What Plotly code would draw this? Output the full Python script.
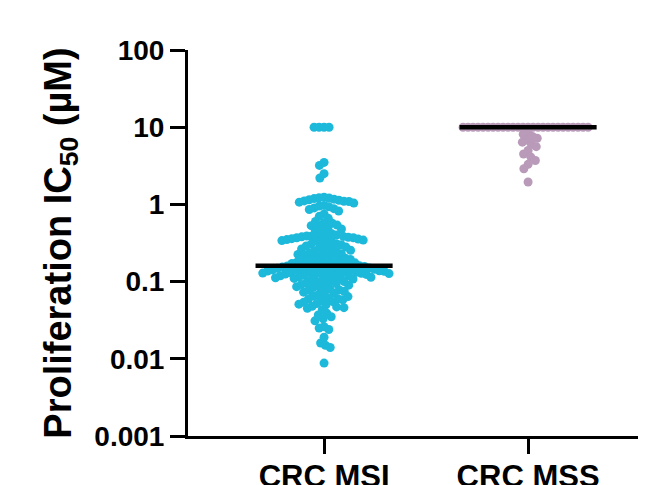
import math
import numpy as np
import plotly.graph_objects as go

categories = ["CRC MSI", "CRC MSS"]

msi_values = (
    [10, 10, 10, 10]
    + [3.5, 3.2, 2.5, 2.2]
    + [1.24, 1.22, 1.21, 1.19, 1.17, 1.15, 1.13, 1.11, 1.1, 1.09, 1.07, 1.04]
    + [0.97, 0.95, 0.93, 0.9, 0.88, 0.86, 0.82]
    + [0.75, 0.7, 0.66]
    + [0.6, 0.58, 0.57, 0.54, 0.53, 0.52, 0.5]
    + [0.48, 0.46, 0.44, 0.42]
    + [0.4, 0.395, 0.39, 0.39, 0.385, 0.38, 0.375, 0.37, 0.37, 0.365, 0.36, 0.355, 0.35, 0.345,
       0.34, 0.335, 0.33, 0.32]
    + [0.31, 0.305, 0.3, 0.29, 0.285, 0.28, 0.27, 0.265, 0.26, 0.255]
    + [0.248, 0.244, 0.24, 0.235, 0.23, 0.225, 0.22, 0.215, 0.21, 0.205, 0.2]
    + [0.197, 0.194, 0.19, 0.187, 0.184, 0.181, 0.178, 0.175, 0.172, 0.169, 0.166, 0.164, 0.162,
       0.16, 0.16, 0.159]
    + [0.157, 0.155, 0.154, 0.152, 0.15, 0.149, 0.147, 0.146, 0.145, 0.144, 0.142, 0.141, 0.14,
       0.138, 0.137, 0.136, 0.135, 0.134, 0.133, 0.132, 0.131, 0.13, 0.129, 0.128, 0.127]
    + [0.125, 0.124, 0.122, 0.121, 0.12, 0.119, 0.118, 0.117, 0.115, 0.114, 0.113, 0.112, 0.11,
       0.108, 0.106, 0.104, 0.102, 0.1]
    + [0.098, 0.096, 0.094, 0.092, 0.09, 0.088, 0.086, 0.084, 0.082, 0.08]
    + [0.078, 0.077, 0.075, 0.073, 0.071, 0.069, 0.067, 0.065, 0.064]
    + [0.062, 0.06, 0.059, 0.058, 0.056, 0.055, 0.054, 0.052, 0.051]
    + [0.05, 0.048, 0.047, 0.046, 0.045, 0.043]
    + [0.039, 0.037, 0.035]
    + [0.033, 0.031]
    + [0.026, 0.025, 0.024]
    + [0.019, 0.016, 0.015, 0.014, 0.0088]
)

mss_values = (
    [10] * 26
    + [8.6, 8.1, 7.6, 7.2, 6.8, 6.4, 6.0, 5.6]
    + [5.0, 4.5, 4.1, 3.7, 3.3, 2.9]
    + [1.95]
)

CAP = 10  # top of the tested concentration range; capped values form their own row

y_tick_vals = [0.001, 0.01, 0.1, 1, 10, 100]
y_tick_text = ["0.001", "0.01", "0.1", "1", "10", "100"]

MSI_COLOR = "#1DB9DB"
MSS_COLOR = "#B99AB9"

# layout geometry (pixels); the page body adds an 8 px offset
W, H = 638, 477
ML, MR, MT, MB = 180, 0, 42, 49
PX_PER_DECADE = (H - MT - MB) / 5.0
X_RANGE = [-0.667, 1.578]
PX_PER_CAT = (W - ML - MR) / (X_RANGE[1] - X_RANGE[0])


def swarm_offsets(vals, dx=5.0, dy=8.0):
    """Beeswarm horizontal offsets (category units); elliptical exclusion zone."""
    ys = [(math.log10(v) + 3) * PX_PER_DECADE for v in vals]
    order = sorted(range(len(vals)), key=lambda i: -ys[i])
    placed = []
    xs = [0.0] * len(vals)
    for i in order:
        y = ys[i]
        intervals = []
        for xj, yj in placed:
            q = abs(y - yj) / dy
            if q < 1:
                w = dx * math.sqrt(1 - q * q)
                intervals.append((xj - w, xj + w))
        cands = [0.0] + [a for a, b in intervals] + [b for a, b in intervals]
        cands.sort(key=lambda c: (abs(c), c))
        for c in cands:
            if all(not (a + 1e-9 < c < b - 1e-9) for a, b in intervals):
                xs[i] = c
                break
        placed.append((xs[i], y))
    return [x / PX_PER_CAT for x in xs]


def group_offsets(vals):
    capped = [i for i, v in enumerate(vals) if v >= CAP]
    rest = [i for i, v in enumerate(vals) if v < CAP]
    offs = [0.0] * len(vals)
    for idxs in (capped, rest):
        o = swarm_offsets([vals[i] for i in idxs])
        for k, i in enumerate(idxs):
            offs[i] = o[k]
    return offs


fig = go.Figure()

for idx, (vals, color) in enumerate([(msi_values, MSI_COLOR), (mss_values, MSS_COLOR)]):
    offs = group_offsets(vals)
    fig.add_trace(go.Scatter(
        x=[idx + o for o in offs], y=vals, mode="markers",
        marker=dict(size=9, color=color, line=dict(width=0)),
        hoverinfo="skip", showlegend=False,
    ))

HALF = 0.336
for idx, vals in enumerate([msi_values, mss_values]):
    med = float(np.median(vals))
    fig.add_trace(go.Scatter(
        x=[idx - HALF, idx + HALF], y=[med, med], mode="lines",
        line=dict(color="black", width=4.5),
        hoverinfo="skip", showlegend=False,
    ))

FONT = "Arial, 'Liberation Sans', sans-serif"

fig.update_layout(
    width=W, height=H,
    margin=dict(l=ML, r=MR, t=MT, b=MB, autoexpand=False),
    paper_bgcolor="white", plot_bgcolor="white",
    font=dict(family=FONT, color="black"),
    xaxis=dict(
        range=X_RANGE, tickmode="array", tickvals=[0, 1],
        ticktext=[f"<b>{c}</b>" for c in categories],
        tickfont=dict(size=31, family=FONT, color="black"),
        showgrid=False, zeroline=False, showline=True, linecolor="black", linewidth=3,
        ticks="outside", ticklen=15, tickwidth=3, tickcolor="black",
        ticklabelstandoff=-4, automargin=False,
    ),
    yaxis=dict(
        type="log", range=[-3, 2], tickmode="array", tickvals=y_tick_vals,
        ticktext=[f"<b>{t}</b>" for t in y_tick_text],
        tickfont=dict(size=28, family=FONT, color="black"),
        showgrid=False, zeroline=False, showline=True, linecolor="black", linewidth=3,
        ticks="outside", ticklen=15, tickwidth=3, tickcolor="black",
        automargin=False,
        title=dict(text="<b>Proliferation IC<sub>50</sub> (µM)</b>",
                   font=dict(size=38, family=FONT, color="black"), standoff=12),
    ),
)

fig.write_html("out.html", config={"displayModeBar": False})
